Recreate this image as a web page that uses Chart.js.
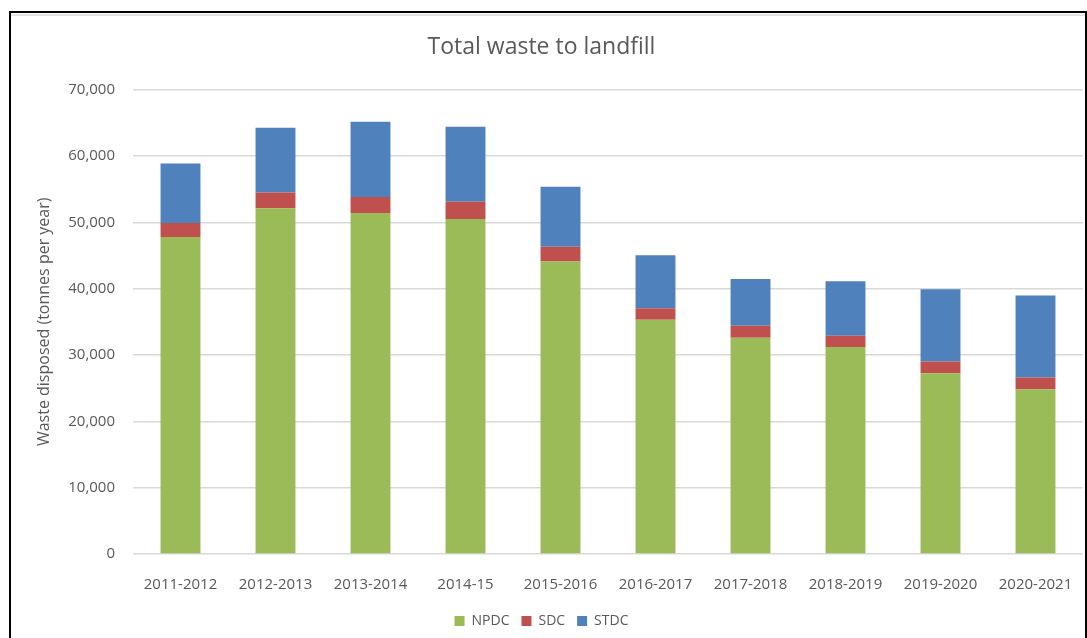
<!DOCTYPE html>
<html>
<head>
<meta charset="utf-8">
<script src="https://cdn.jsdelivr.net/npm/chart.js@4.4.0/dist/chart.umd.min.js"></script>
<style>
    body { margin: 0; background: #fff; }
    #wrap { position: relative; width: 1087px; height: 638px; overflow: hidden; }
    #wasteChart { position: absolute; left: 0; top: 0; }
    #frame { position: absolute; left: 9px; top: 11px; width: 1074px; height: 640px;
             border: 2px solid #000; border-bottom: none; }
    #sheetLine { position: absolute; left: 11px; top: 14px; width: 1074px; height: 2px; background: #e3e3e3; }
</style>
</head>
<body>
<div id="wrap">
    <canvas id="wasteChart" width="1087" height="638"></canvas>
    <div id="sheetLine"></div>
    <div id="frame"></div>
</div>
<script>
// 연도 구간
const years = ['2011-2012', '2012-2013', '2013-2014', '2014-15', '2015-2016',
               '2016-2017', '2017-2018', '2018-2019', '2019-2020', '2020-2021'];
// 톤/년
const npdc = [47800, 52100, 51400, 50500, 44100, 35300, 32600, 31200, 27250, 24850];
const sdc  = [2100, 2400, 2400, 2600, 2200, 1750, 1800, 1700, 1750, 1750];
const stdc = [8950, 9750, 11350, 11300, 9050, 8000, 7050, 8200, 10900, 12350];
const yTicks = [0, 10000, 20000, 30000, 40000, 50000, 60000, 70000];

const grey = '#595959';
const font = "'Open Sans', sans-serif";

const ctx = document.getElementById('wasteChart').getContext('2d');

new Chart(ctx, {
    type: 'bar',
    data: {
        labels: years,
        datasets: [
            { label: 'NPDC', data: npdc, backgroundColor: '#9BBB59' },
            { label: 'SDC', data: sdc, backgroundColor: '#C0504D' },
            { label: 'STDC', data: stdc, backgroundColor: '#4F81BD' }
        ]
    },
    options: {
        responsive: false,
        animation: false,
        datasets: { bar: { categoryPercentage: 0.84, barPercentage: 0.5 } },
        layout: { padding: { left: 0, right: 4, top: 0, bottom: 0 } },
        plugins: {
            title: {
                display: true,
                text: 'Total waste to landfill',
                color: grey,
                font: { family: font, size: 23, weight: 'normal' },
                padding: { top: 34, bottom: 28 }
            },
            legend: {
                position: 'bottom',
                labels: {
                    color: grey,
                    font: { family: font, size: 14 },
                    boxWidth: 10,
                    boxHeight: 10,
                    padding: 12
                }
            },
            tooltip: { enabled: false }
        },
        scales: {
            x: {
                stacked: true,
                grid: { display: false },
                border: { display: false },
                ticks: { color: grey, font: { family: font, size: 15 }, padding: 14, maxRotation: 0 },
                afterFit: function(scale) { scale.height = 48; }
            },
            y: {
                stacked: true,
                min: 0,
                max: 70000,
                afterBuildTicks: function(scale) { scale.ticks = yTicks.map(v => ({ value: v })); },
                grid: { color: '#d9d9d9', lineWidth: 1.5, drawTicks: false },
                border: { display: false },
                ticks: {
                    color: grey,
                    font: { family: font, size: 15 },
                    padding: 18,
                    callback: v => v.toLocaleString('en-US')
                },
                title: {
                    display: true,
                    text: 'Waste disposed (tonnes per year)',
                    color: grey,
                    font: { family: font, size: 16 },
                    padding: { top: 35, bottom: 0 }
                },
                afterFit: function(scale) { scale.width = 133; }
            }
        }
    }
});
</script>
</body>
</html>
